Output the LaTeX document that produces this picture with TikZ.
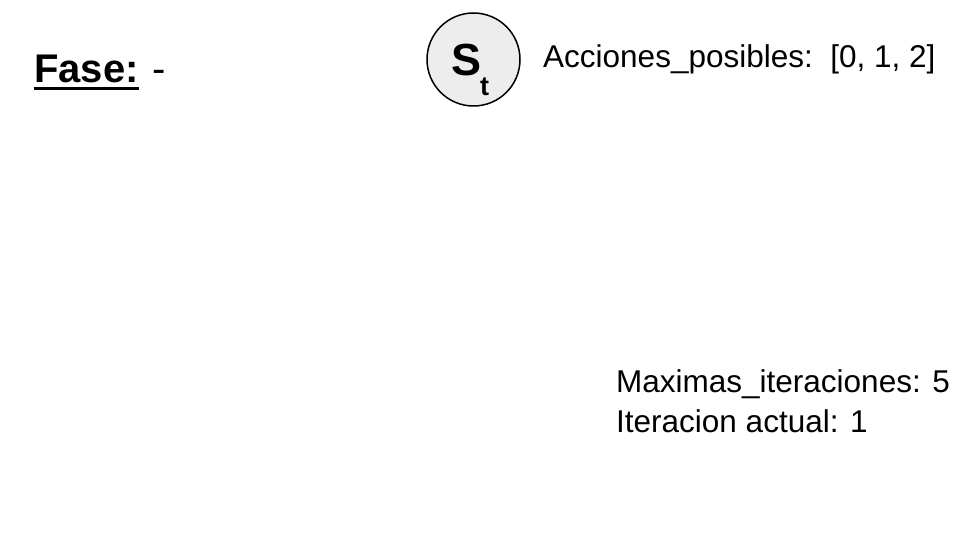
\documentclass[tikz,border=0pt]{standalone}
\usepackage{fontspec}
\setmainfont{Liberation Sans}
\begin{document}
\begin{tikzpicture}[x=1pt,y=-1pt,
		txt/.style={anchor=base west,inner sep=0pt,font=\fontsize{31.5}{36}\selectfont}]
		\useasboundingbox (0,0) rectangle (960,540);
		\node [txt,font=\fontsize{40}{46}\selectfont\bfseries] (fase) at (34,83) {Fase:};
		\draw [line width=3pt] ([yshift=-6pt]fase.base west) -- ([yshift=-6pt]fase.base east);
		\node [txt,font=\fontsize{40}{46}\selectfont] (faseval) at (141,83) {\ -};
		\node [circle,draw,line width=1.5pt,fill=black!7,minimum size=93pt,inner sep=0pt] (st) at (473.5,59.5) {};
		\node [txt,font=\fontsize{45}{50}\selectfont\bfseries] (stS) at (451,76) {S};
		\node [txt,font=\fontsize{27}{30}\selectfont\bfseries] (stt) at (480,96) {t};
		\node [txt] (acciones) at (543,68) {Acciones\_posibles:\ \ [0, 1, 2]};
		\node [txt] (maxit) at (616,392) {Maximas\_iteraciones: 5};
		\node [txt] (iter) at (616,432) {Iteracion actual: 1};
	\end{tikzpicture}
\end{document}
